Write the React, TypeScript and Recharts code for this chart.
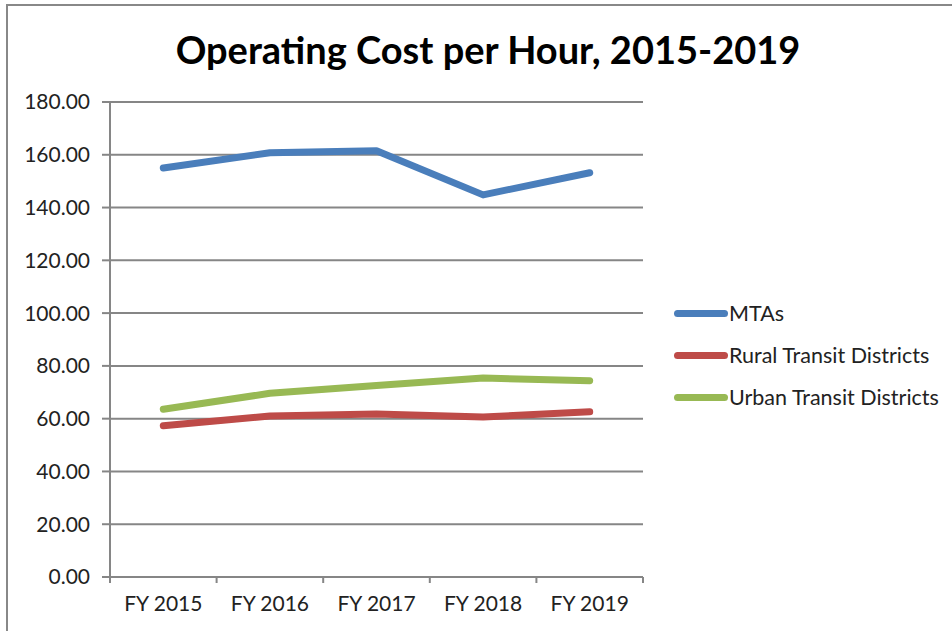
import { LineChart, Line, XAxis, YAxis, CartesianGrid, Legend } from 'recharts';

const years = ['FY 2015', 'FY 2016', 'FY 2017', 'FY 2018', 'FY 2019'];
const mtas = [155.0, 160.8, 161.5, 144.8, 153.2];
const rural = [57.3, 61.0, 61.8, 60.6, 62.6];
const urban = [63.6, 69.6, 72.6, 75.4, 74.4];
const yTicks = [0, 20, 40, 60, 80, 100, 120, 140, 160, 180];

const seriesInfo = [
  { key: 'mtas', name: 'MTAs', color: '#4A7EBB' },
  { key: 'rural', name: 'Rural Transit Districts', color: '#BE4B48' },
  { key: 'urban', name: 'Urban Transit Districts', color: '#98B954' },
];

const data = years.map((y, i) => ({ year: y, mtas: mtas[i], rural: rural[i], urban: urban[i] }));

const FONT = 'Lato, "Open Sans", sans-serif';
const AXIS = '#868686';

// labels at band centres, tick marks at band edges like Excel
function XTick(props: any) {
  const { x, y, payload, index } = props;
  const half = 53.3;
  return (
    <g>
      <line x1={x - half} y1={y - 8} x2={x - half} y2={y - 2} stroke={AXIS} strokeWidth={2} />
      {index === years.length - 1 && (
        <line x1={x + half} y1={y - 8} x2={x + half} y2={y - 2} stroke={AXIS} strokeWidth={2} />
      )}
      <text x={x} y={y + 26} textAnchor="middle" fontSize={21} fill="#222" fontFamily={FONT}>
        {payload.value}
      </text>
    </g>
  );
}

function LegendBox() {
  return (
    <div style={{ fontFamily: FONT, fontSize: 21.5, color: '#222' }}>
      {seriesInfo.map((s) => (
        <div key={s.key} style={{ display: 'flex', alignItems: 'center', height: 42 }}>
          <div style={{ width: 54, height: 7, borderRadius: 4, background: s.color, marginRight: 1 }} />
          <span>{s.name}</span>
        </div>
      ))}
    </div>
  );
}

export default function App() {
  return (
    <div style={{ position: 'absolute', top: 0, left: 0, width: 952, height: 631, background: '#fff', overflow: 'hidden' }}>
      <div style={{ position: 'absolute', left: 6, top: 4, right: 0, bottom: 0, borderTop: '2px solid #888', borderLeft: '2px solid #888' }} />
      <div style={{ position: 'absolute', left: 0, width: 976, top: 26, textAlign: 'center', fontFamily: FONT, fontWeight: 700, fontSize: 38, color: '#000', whiteSpace: 'nowrap' }}>
        Operating Cost per Hour, 2015-2019
      </div>
      <div style={{ position: 'absolute', top: 0, left: 0 }}>
        <LineChart width={952} height={631} data={data} margin={{ top: 102, right: 309, bottom: 24, left: 0 }}>
          <CartesianGrid vertical={false} stroke={AXIS} strokeWidth={2} />
          <XAxis
            dataKey="year"
            scale="band"
            stroke={AXIS}
            strokeWidth={2}
            tickLine={false}
            tick={<XTick />}
            interval={0}
            height={30}
          />
          <YAxis
            domain={[0, 180]}
            ticks={yTicks}
            width={110}
            stroke={AXIS}
            strokeWidth={2}
            tickSize={8}
            tickMargin={12}
            tickLine={{ stroke: AXIS, strokeWidth: 2 }}
            tickFormatter={(v: number) => v.toFixed(2)}
            tick={{ fontSize: 21, fill: '#222', fontFamily: FONT }}
          />
          <Legend
            layout="vertical"
            verticalAlign="middle"
            align="center"
            content={<LegendBox />}
            wrapperStyle={{ left: 674, top: 292, width: 278 }}
          />
          {seriesInfo.map((s) => (
            <Line
              key={s.key}
              type="linear"
              dataKey={s.key}
              name={s.name}
              stroke={s.color}
              strokeWidth={7}
              strokeLinecap="round"
              strokeLinejoin="round"
              dot={false}
              activeDot={false}
              isAnimationActive={false}
            />
          ))}
        </LineChart>
      </div>
    </div>
  );
}
